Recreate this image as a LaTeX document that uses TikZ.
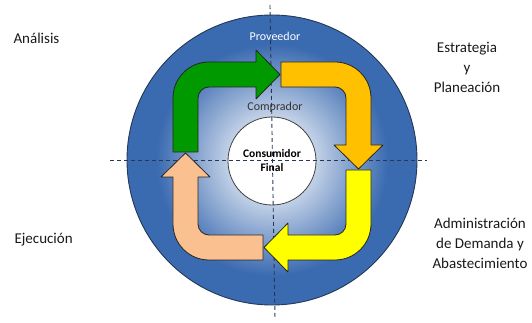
\documentclass[tikz,border=0pt]{standalone}
\usepackage{fontspec}
\setmainfont{Carlito}
\usepackage{tikz}
\usetikzlibrary{positioning,calc,shapes.geometric}
\definecolor{cblue}{RGB}{58,106,176}
\definecolor{cline}{RGB}{38,56,86}
\definecolor{cgreen}{RGB}{0,153,0}
\definecolor{cgold}{RGB}{255,192,0}
\definecolor{cyellow}{RGB}{255,255,0}
\definecolor{cpeach}{RGB}{250,192,144}
\colorlet{cpale}{cblue!22!white}
\pgfdeclareradialshading{hubshade}{\pgfpoint{0bp}{0bp}}{color(0bp)=(white); color(6bp)=(cpale); color(20bp)=(cblue); color(50bp)=(cblue)}
\tikzset{
  ring/.style={draw=cline,line width=0.9pt,shading=hubshade},
  hub/.style={circle,minimum size=88pt,inner sep=0pt,align=center,font=\fontsize{11.5}{14}\selectfont\bfseries},
  axis/.style={draw=cline,line width=0.9pt,dash pattern=on 4pt off 3pt},
  barrow/.style={draw=black!85,line width=0.8pt,line join=round},
  side/.style={font=\fontsize{15}{20}\selectfont,align=center,text=black!90},
  role/.style={font=\fontsize{12}{14}\selectfont}
}

\begin{document}
\begin{tikzpicture}[x=1pt,y=1pt]
\useasboundingbox (-272,-162) rectangle (260,161);
% ring
\shadedraw[ring] (0,1) circle (145);
\draw[draw=black!75,line width=0.8pt,fill=white] (0,0) circle (44);
% axes
\coordinate (vt) at (-2,156); \coordinate (vb) at (3,-158);
\coordinate (hl) at (-162,1); \coordinate (hr) at (155,1);
\draw[axis] (vt) -- (vb);
\draw[axis] (hl) -- (hr);
\node[hub] (cons) at (0,0) {Consumidor\\Final};
% arrows
\foreach \ang/\col in {0/cgreen,-90/cgold,-180/cyellow,-270/cpeach}
  \draw[barrow,fill=\col,rotate=\ang] (-99,9) -- (-99,63) arc[start angle=180,end angle=90,radius=36]
    -- (-16,99) -- (-16,111) -- (8,86.5) -- (-16,62) -- (-16,74) -- (-63,74)
    arc[start angle=90,end angle=180,radius=11] -- (-74,9) -- cycle;
% labels
\node[role,text=white] (prov) at (3,125) {Proveedor};
\node[role,text=black!80] (comp) at (3,54) {Comprador};
\node[side,anchor=west] (anal) at (-262,123) {Análisis};
\node[side,anchor=west] (ejec) at (-261,-79) {Ejecución};
\node[side] (estr) at (195,94) {Estrategia\\y\\Planeación};
\node[side] (admi) at (208,-82) {Administración\\de Demanda y\\Abastecimiento};
\end{tikzpicture}
\end{document}
